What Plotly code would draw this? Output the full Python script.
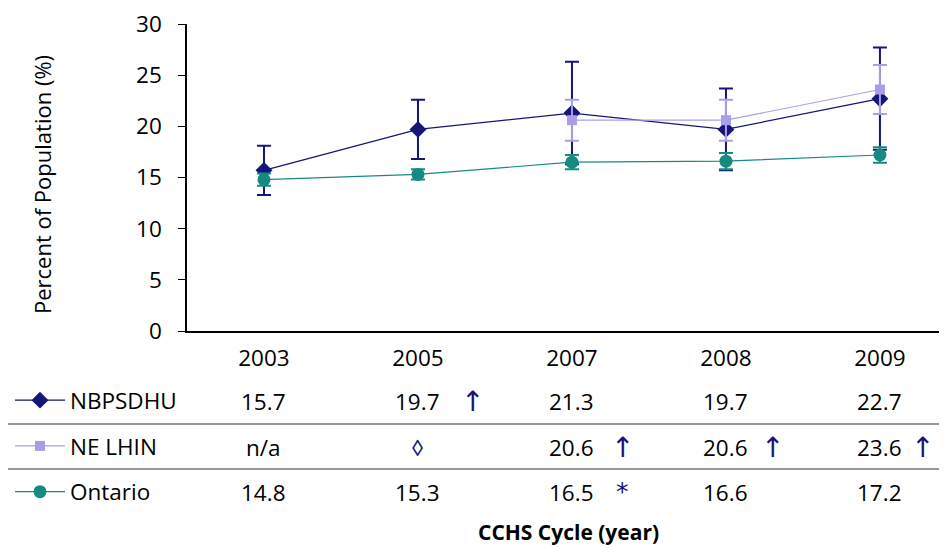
import plotly.graph_objects as go

years = ["2003", "2005", "2007", "2008", "2009"]
series_names = ["NBPSDHU", "NE LHIN", "Ontario"]
nbpsdhu = [15.7, 19.7, 21.3, 19.7, 22.7]
nbpsdhu_err = [2.4, 2.9, 5.0, 4.0, 5.0]
nelhin = [None, None, 20.6, 20.6, 23.6]
nelhin_err = [None, None, 2.0, 2.0, 2.4]
ontario = [14.8, 15.3, 16.5, 16.6, 17.2]
ontario_err = [0.6, 0.5, 0.7, 0.8, 0.75]

table_text = {
    "NBPSDHU": ["15.7", "19.7", "21.3", "19.7", "22.7"],
    "NE LHIN": ["n/a", "\u25CA", "20.6", "20.6", "23.6"],
    "Ontario": ["14.8", "15.3", "16.5", "16.6", "17.2"],
}
flags = {
    "NBPSDHU": ["", "\u2191", "", "", ""],
    "NE LHIN": ["", "", "\u2191", "\u2191", "\u2191"],
    "Ontario": ["", "", "*", "", ""],
}

NAVY = "#15157A"
LAV = "#A99FE8"
TEAL = "#168A80"
FONT = "Open Sans"
FS = 22.5

fig = go.Figure()
fig.add_trace(go.Scatter(
    x=years, y=nbpsdhu, name="NBPSDHU", mode="lines+markers",
    line=dict(color=NAVY, width=1.2),
    marker=dict(symbol="diamond", size=13, color=NAVY),
    error_y=dict(type="data", array=nbpsdhu_err, color=NAVY, thickness=2, width=7),
    legendgroup="a",
))
fig.add_trace(go.Scatter(
    x=years, y=nelhin, name="NE LHIN", mode="lines+markers",
    line=dict(color=LAV, width=1.2),
    marker=dict(symbol="square", size=10, color=LAV),
    error_y=dict(type="data", array=nelhin_err, color=LAV, thickness=2, width=7),
    legendgroup="b",
))
fig.add_trace(go.Scatter(
    x=years, y=ontario, name="Ontario", mode="lines+markers",
    line=dict(color=TEAL, width=1.2),
    marker=dict(symbol="circle", size=13, color=TEAL),
    error_y=dict(type="data", array=ontario_err, color=TEAL, thickness=2, width=7),
    legendgroup="c",
))

# layout geometry (page pixels; the page adds an 8px body margin)
W, H = 939, 540
OFF = 8
plot_l, plot_r, plot_t, plot_b = 187, 946, 24, 331
pw = plot_r - plot_l
ph = plot_b - plot_t
def px(sx):
    return (sx - plot_l) / pw
def py(sy):
    return (plot_b - sy) / ph

row_y = [401, 447, 492]
flag_shift = [55, 55, 51, 47, 43]
for ri, name in enumerate(series_names):
    for ci, yr in enumerate(years):
        txt = table_text[name][ci]
        fig.add_annotation(x=ci, y=py(row_y[ri]), xref="x", yref="paper",
                           text=txt, showarrow=False,
                           font=dict(family=FONT, size=FS,
                                     color=NAVY if txt == "\u25CA" else "black"),
                           xanchor="center", yanchor="middle")
        f = flags[name][ci]
        if f:
            fig.add_annotation(x=ci, y=py(row_y[ri] - (1 if f == "*" else 0)),
                               xref="x", yref="paper",
                               text=f, showarrow=False, xshift=flag_shift[ci],
                               font=dict(family="DejaVu Sans", size=28 if f != "*" else 25,
                                         color=NAVY),
                               xanchor="center", yanchor="middle")

for sep in [424, 469]:
    fig.add_shape(type="line", xref="paper", yref="paper",
                  x0=px(7), x1=px(947), y0=py(sep), y1=py(sep),
                  line=dict(color="#999999", width=2))

# axis titles
fig.add_annotation(text="<b>CCHS Cycle (year)</b>", xref="paper", yref="paper",
                   x=px(568), y=py(532), showarrow=False, xanchor="center", yanchor="middle",
                   font=dict(family=FONT, size=21))
fig.add_annotation(text="Percent of Population (%)", xref="paper", yref="paper",
                   x=px(42), y=py(185), showarrow=False, textangle=-90,
                   xanchor="center", yanchor="middle",
                   font=dict(family=FONT, size=22))

fig.update_layout(
    width=W, height=H,
    margin=dict(l=plot_l - OFF, r=W - (plot_r - OFF), t=plot_t - OFF,
                b=H - (plot_b - OFF), autoexpand=False),
    plot_bgcolor="white", paper_bgcolor="white",
    font=dict(family=FONT, size=FS, color="black"),
    showlegend=True,
    legend=dict(xref="container", yref="container", x=(10 - OFF) / W, y=1 - 371 / H,
                xanchor="left", yanchor="top", traceorder="grouped",
                tracegroupgap=13.5, font=dict(family=FONT, size=FS),
                bgcolor="rgba(0,0,0,0)", itemwidth=50),
)
fig.update_xaxes(
    type="category", range=[-0.5, 4.429], showline=True, linecolor="black",
    linewidth=2, ticks="", showgrid=False, ticklabelstandoff=6, automargin=False,
    tickfont=dict(family=FONT, size=FS),
)
fig.update_yaxes(
    range=[0, 30], tickvals=[0, 5, 10, 15, 20, 25, 30], showline=True,
    linecolor="black", linewidth=1.5, ticklabeloverflow="allow",
    ticks="outside", ticklen=7, tickcolor="black", showgrid=False, zeroline=False,
    ticklabelstandoff=12, automargin=False, tickfont=dict(family=FONT, size=FS),
)

fig.write_html("out.html")
